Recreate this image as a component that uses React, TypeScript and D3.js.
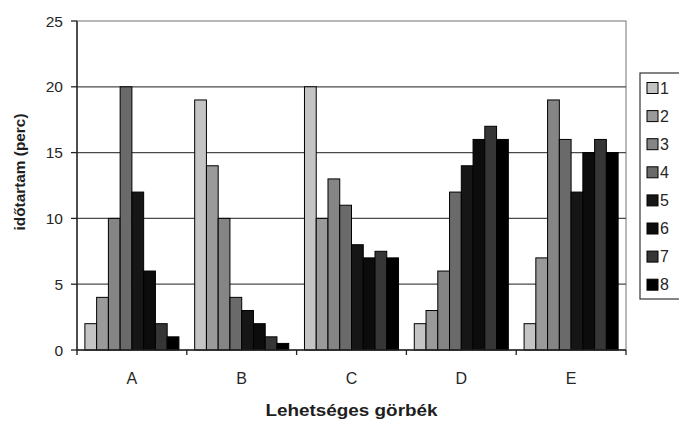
import React from 'react';
import * as d3 from 'd3';

const width = 679;
const height = 421;

const categories = ['A', 'B', 'C', 'D', 'E'];
const seriesNames = ['1', '2', '3', '4', '5', '6', '7', '8'];
const seriesA = [2, 4, 10, 20, 12, 6, 2, 1];
const seriesB = [19, 14, 10, 4, 3, 2, 1, 0.5];
const seriesC = [20, 10, 13, 11, 8, 7, 7.5, 7];
const seriesD = [2, 3, 6, 12, 14, 16, 17, 16];
const seriesE = [2, 7, 19, 16, 12, 15, 16, 15];
const yTicks = [0, 5, 10, 15, 20, 25];
const colors = ['#c4c4c4', '#9a9a9a', '#858585', '#6a6a6a', '#161616', '#0c0c0c', '#363636', '#000000'];

const groups = [seriesA, seriesB, seriesC, seriesD, seriesE];

const margin = { left: 77, right: 53, top: 21, bottom: 71 };
const font = '"Liberation Sans", Arial, sans-serif';

const App: React.FC = () => {
  const x0 = d3
    .scaleBand<string>()
    .domain(categories)
    .range([margin.left, width - margin.right])
    .paddingInner(0)
    .paddingOuter(0);
  const x1 = d3
    .scaleBand<string>()
    .domain(seriesNames)
    .range([0, x0.bandwidth()])
    .paddingInner(0)
    .paddingOuter(0.67);
  const y = d3
    .scaleLinear()
    .domain([0, 25])
    .range([height - margin.bottom, margin.top]);

  const right = width - margin.right;
  const bottom = height - margin.bottom;
  const boundaries = categories.map(c => x0(c)!).concat([right]);

  return (
    <svg
      width={width}
      height={height}
      style={{ position: 'absolute', left: 0, top: 0, background: '#fff' }}
    >
      {/* plot frame */}
      <rect
        x={margin.left}
        y={margin.top}
        width={right - margin.left}
        height={bottom - margin.top}
        fill="none"
        stroke="#8a8a8a"
        strokeWidth={1.2}
      />
      {yTicks.slice(1, -1).map(t => (
        <line key={t} x1={margin.left} x2={right} y1={y(t)} y2={y(t)} stroke="#4a4a4a" strokeWidth={1.2} />
      ))}

      {groups.map((vals, gi) => (
        <g key={categories[gi]} transform={`translate(${x0(categories[gi])},0)`}>
          {vals.map((v, si) => (
            <rect
              key={si}
              x={x1(seriesNames[si])}
              y={y(v)}
              width={x1.bandwidth()}
              height={bottom - y(v)}
              fill={colors[si]}
              stroke="#000"
              strokeWidth={1}
            />
          ))}
        </g>
      ))}

      {/* axes */}
      <line x1={margin.left} x2={margin.left} y1={margin.top} y2={bottom + 5} stroke="#222" strokeWidth={1.4} />
      <line x1={margin.left} x2={right} y1={bottom} y2={bottom} stroke="#222" strokeWidth={1.4} />
      {yTicks.map(t => (
        <g key={t}>
          <line x1={margin.left - 6} x2={margin.left} y1={y(t)} y2={y(t)} stroke="#222" strokeWidth={1.3} />
          <text
            x={63}
            y={y(t)}
            dy="0.36em"
            textAnchor="end"
            fontFamily={font}
            fontSize={15.5}
            fill="#262626"
          >
            {t}
          </text>
        </g>
      ))}
      {boundaries.slice(1).map((b, i) => (
        <line key={i} x1={b} x2={b} y1={bottom} y2={bottom + 5} stroke="#222" strokeWidth={1.3} />
      ))}
      {categories.map(c => (
        <text
          key={c}
          x={x0(c)! + x0.bandwidth() / 2}
          y={384}
          textAnchor="middle"
          fontFamily={font}
          fontSize={16}
          fill="#262626"
        >
          {c}
        </text>
      ))}

      <text
        x={(margin.left + right) / 2}
        y={416}
        textAnchor="middle"
        fontFamily={font}
        fontSize={17}
        fontWeight="bold"
        fill="#1e1e1e"
        textLength={172}
        lengthAdjust="spacingAndGlyphs"
      >
        Lehetséges görbék
      </text>
      <text
        transform="translate(25,172) rotate(-90)"
        textAnchor="middle"
        fontFamily={font}
        fontSize={15}
        fontWeight="bold"
        fill="#1e1e1e"
        textLength={117}
        lengthAdjust="spacingAndGlyphs"
      >
        időtartam (perc)
      </text>

      {/* legend */}
      <rect x={640} y={73} width={45} height={226} fill="#fff" stroke="#333" strokeWidth={1.2} />
      {seriesNames.map((s, i) => (
        <g key={s} transform={`translate(647,${88 + i * 28.1})`}>
          <rect x={0} y={-5.5} width={11} height={11} fill={colors[i]} stroke="#000" strokeWidth={1} />
          <text x={13} y={0} dy="0.36em" fontFamily={font} fontSize={16} fill="#262626">
            {s}
          </text>
        </g>
      ))}
    </svg>
  );
};

export default App;
